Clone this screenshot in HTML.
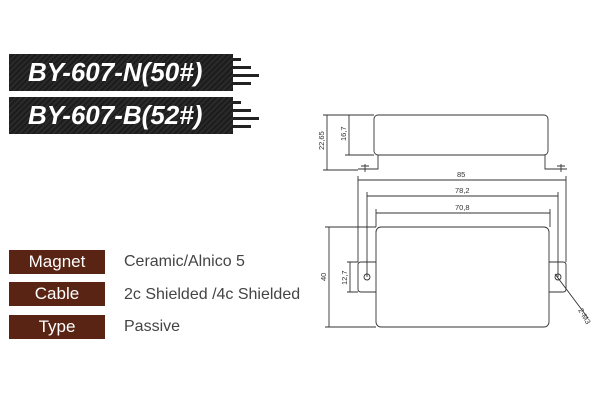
<!DOCTYPE html>
<html><head><style>
body{margin:0;width:600px;height:400px;background:#fff;position:relative;overflow:hidden;font-family:"Liberation Sans",sans-serif}
.ban{position:absolute;left:9px;width:224px;height:37px;background:repeating-linear-gradient(135deg,#2a2a2a 0 2px,#1c1c1c 2px 4px);color:#fff;font-weight:bold;font-style:italic;font-size:26px;line-height:37px;padding-left:19px;box-sizing:border-box}
.st{position:absolute;height:3px;background:#222}
.lab{position:absolute;left:9px;width:96px;height:24px;background:#5a2414;color:#fff;font-size:17px;line-height:24px;text-align:center}
.val{position:absolute;left:124px;font-size:16px;color:#444}
</style></head><body>
<div class="ban" style="top:54px">BY-607-N(50#)</div>
<div class="ban" style="top:97px">BY-607-B(52#)</div>
<div class="st" style="left:233px;top:58px;width:8px"></div>
<div class="st" style="left:233px;top:66px;width:18px"></div>
<div class="st" style="left:233px;top:74px;width:26px"></div>
<div class="st" style="left:233px;top:82px;width:18px"></div>
<div class="st" style="left:233px;top:101px;width:8px"></div>
<div class="st" style="left:233px;top:109px;width:18px"></div>
<div class="st" style="left:233px;top:117px;width:26px"></div>
<div class="st" style="left:233px;top:125px;width:18px"></div>
<div class="lab" style="top:250px">Magnet</div>
<div class="lab" style="top:282px">Cable</div>
<div class="lab" style="top:315px">Type</div>
<div class="val" style="top:253px">Ceramic/Alnico 5</div>
<div class="val" style="top:286px">2c Shielded /4c Shielded</div>
<div class="val" style="top:318px">Passive</div>
<svg width="600" height="400" style="position:absolute;left:0;top:0" fill="none" stroke="#333" stroke-width="0.9" font-family="Liberation Sans" font-size="7.5">
<rect x="374" y="115" width="174" height="40" rx="4"/>
<path d="M378 155 V169 H358 M545 155 V169 H567"/>
<path d="M365 164 V172 M361 166 H369 M561 164 V172 M557 166 H565"/>
<path d="M323 115 H374 M323 170 H358 M345 155 H374"/>
<path d="M327 115 V170 M349 115 V155"/>
<text x="0" y="0" fill="#333" stroke="none" transform="translate(324,150) rotate(-90)">22,65</text>
<text x="0" y="0" fill="#333" stroke="none" transform="translate(346,141) rotate(-90)">16,7</text>
<path d="M358 180 H566 M367 196 H558 M376 213 H550"/>
<path d="M358 176 V262 M566 176 V262 M367 192 V277 M558 192 V277 M376 209 V227 M550 209 V227"/>
<text x="457" y="177" fill="#333" stroke="none">85</text>
<text x="455" y="193" fill="#333" stroke="none">78,2</text>
<text x="455" y="210" fill="#333" stroke="none">70,8</text>
<rect x="376" y="227" width="173" height="100" rx="5"/>
<path d="M376 262 H361 Q358 262 358 265 V289 Q358 292 361 292 H376 M549 262 H563 Q566 262 566 265 V289 Q566 292 563 292 H549"/>
<circle cx="367" cy="277" r="3"/><circle cx="558" cy="277" r="3"/>
<path d="M325 227 H376 M325 327 H376 M347 262 H358 M347 292 H358"/>
<path d="M329 227 V327 M350 262 V292"/>
<text x="0" y="0" fill="#333" stroke="none" transform="translate(326,281) rotate(-90)">40</text>
<text x="0" y="0" fill="#333" stroke="none" transform="translate(347,285) rotate(-90)">12,7</text>
<path d="M555 274 L588 318"/>
<text x="0" y="0" fill="#333" stroke="none" transform="translate(578,310) rotate(60)">2-M3</text>
</svg>
</body></html>
